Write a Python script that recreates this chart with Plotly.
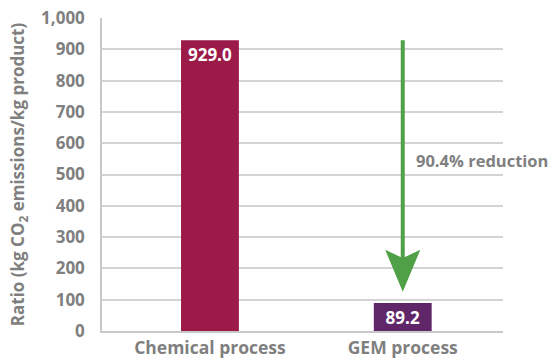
import plotly.graph_objects as go

# CO2 emission ratios for the two production routes
processes = ["Chemical process", "GEM process"]
ratios = [929.0, 89.2]
bar_colors = ["#9b1a48", "#5f2768"]
reduction_label = "90.4% reduction"
y_ticks = [0, 100, 200, 300, 400, 500, 600, 700, 800, 900, 1000]

GRAY = "#7f7f7f"
FONT = "Open Sans"
WEIGHT = 700

x_pos = list(range(len(processes)))

fig = go.Figure()
fig.add_trace(go.Bar(
    x=x_pos,
    y=ratios,
    width=0.30,
    marker=dict(color=bar_colors, line=dict(width=0)),
    text=[f"{v:.1f}" for v in ratios],
    textposition="inside",
    insidetextanchor="end",
    textangle=0,
    constraintext="none",
    textfont=dict(family=FONT, size=17, color="white", weight=WEIGHT),
    cliponaxis=False,
    hoverinfo="skip",
))

# Reduction arrow: from the chemical-process level down toward the GEM bar
x_arrow = x_pos[1]
y_start = ratios[0]
y_tip = ratios[1] + 36
head_len = 134
notch = 26
half_w = 0.091
fig.add_shape(type="line", x0=x_arrow, x1=x_arrow, y0=y_start, y1=y_tip + head_len - notch,
              xref="x", yref="y", line=dict(color="#4fa047", width=4))
fig.add_shape(
    type="path",
    path=(f"M {x_arrow - half_w},{y_tip + head_len} L {x_arrow},{y_tip + head_len - notch} "
          f"L {x_arrow + half_w},{y_tip + head_len} L {x_arrow},{y_tip} Z"),
    xref="x", yref="y", fillcolor="#4fa047", line=dict(width=0),
)
fig.add_annotation(
    x=x_arrow + 0.06, y=546, xref="x", yref="y",
    text=reduction_label, showarrow=False, xanchor="left", yanchor="middle",
    font=dict(family=FONT, size=16.5, color=GRAY, weight=WEIGHT),
)

fig.update_layout(
    width=552, height=360,
    margin=dict(l=102, r=49, t=18, b=29),
    paper_bgcolor="white", plot_bgcolor="white",
    showlegend=False,
    font=dict(family=FONT, color=GRAY),
)
fig.update_xaxes(
    range=[-0.56, 1.52],
    tickvals=x_pos, ticktext=processes,
    tickfont=dict(family=FONT, size=17.5, color=GRAY, weight=WEIGHT),
    showgrid=False, zeroline=False,
    showline=True, linecolor="#c8c8c8", linewidth=2,
    ticks="", ticklabelstandoff=0,
    automargin=False,
)
fig.update_yaxes(
    range=[0, 1000],
    tickvals=y_ticks, tickformat=",",
    tickfont=dict(family=FONT, size=17, color=GRAY, weight=WEIGHT),
    showgrid=True, gridcolor="#d4d4d4", gridwidth=1.5,
    zeroline=False,
    showline=True, linecolor="#c8c8c8", linewidth=1.5,
    ticks="", ticklabelstandoff=12,
    automargin=False,
    title=dict(text="Ratio (kg CO<sub>2</sub> emissions/kg product)",
               font=dict(family=FONT, size=17, color=GRAY, weight=WEIGHT), standoff=12),
)

fig.write_html("out.html")
